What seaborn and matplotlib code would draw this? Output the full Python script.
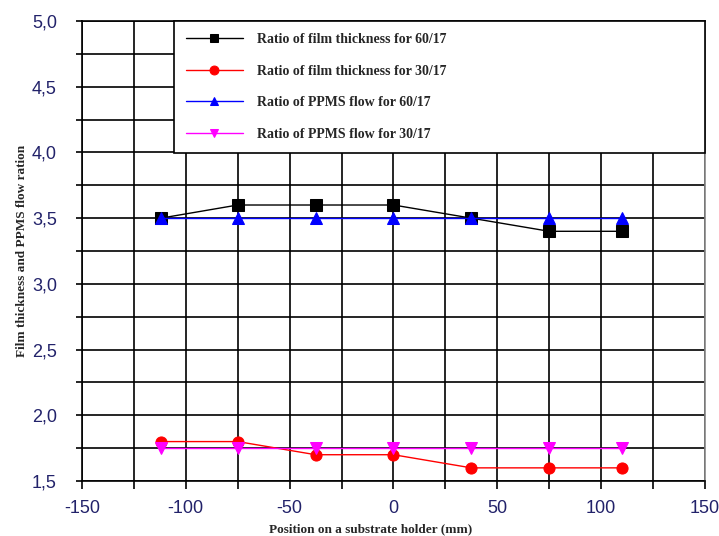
import matplotlib
matplotlib.use("Agg")
import matplotlib.pyplot as plt
from matplotlib.ticker import MultipleLocator, FuncFormatter
import seaborn as sns
import pandas as pd

# Measurement positions on the substrate holder (mm)
positions = [-112, -75, -37.5, 0, 37.5, 75, 110]

# Ratios for each series
thickness_60_17 = [3.5, 3.6, 3.6, 3.6, 3.5, 3.4, 3.4]
thickness_30_17 = [1.8, 1.8, 1.7, 1.7, 1.6, 1.6, 1.6]
ppms_60_17 = [3.5, 3.5, 3.5, 3.5, 3.5, 3.5, 3.5]
ppms_30_17 = [1.75, 1.75, 1.75, 1.75, 1.75, 1.75, 1.75]

series_labels = [
    "Ratio of film thickness for 60/17",
    "Ratio of film thickness for 30/17",
    "Ratio of PPMS flow for 60/17",
    "Ratio of PPMS flow for 30/17",
]
series_values = [thickness_60_17, thickness_30_17, ppms_60_17, ppms_30_17]
series_colors = ["#000000", "#ff0000", "#0000ff", "#ff00ff"]
series_markers = ["s", "o", "^", "v"]

x_label = "Position on a substrate holder (mm)"
y_label = "Film thickness and PPMS flow ration"

sns.set_style("white")
plt.rcParams["font.family"] = ["Liberation Sans", "DejaVu Sans"]

fig = plt.figure(figsize=(7.19, 5.36), dpi=100)
ax = fig.add_axes([0.114, 0.1026, 0.8665, 0.8582])

for label, vals, color, marker in zip(series_labels, series_values,
                                      series_colors, series_markers):
    df = pd.DataFrame({"x": positions, "y": vals})
    sns.lineplot(data=df, x="x", y="y", ax=ax, color=color, marker=marker,
                 markersize=8, markeredgecolor=color, linewidth=1.0,
                 label=label, zorder=5)

ax.set_xlim(-150, 150)
ax.set_ylim(1.5, 5.0)
ax.xaxis.set_major_locator(MultipleLocator(50))
ax.xaxis.set_minor_locator(MultipleLocator(25))
ax.yaxis.set_major_locator(MultipleLocator(0.5))
ax.yaxis.set_minor_locator(MultipleLocator(0.25))
ax.xaxis.set_major_formatter(FuncFormatter(lambda v, p: f"{v:.0f}"))
ax.yaxis.set_major_formatter(FuncFormatter(lambda v, p: f"{v:.1f}".replace(".", ",")))

ax.grid(True, which="both", color="black", linewidth=1.2)
ax.set_axisbelow(True)
ax.tick_params(axis="both", which="both", direction="out", color="black",
               width=1.2, bottom=True, left=True)
ax.tick_params(axis="x", which="both", length=6, pad=8)
ax.tick_params(axis="y", which="both", length=4, pad=14)
ax.tick_params(axis="both", which="major", labelsize=13, labelcolor="#22226a")

for side, spine in ax.spines.items():
    spine.set_visible(True)
    spine.set_color("black")
    spine.set_linewidth(1.2)
ax.spines["right"].set_color("#888888")

label_font = dict(family=["Liberation Serif", "DejaVu Serif"],
                  weight="bold", size=9.5)
ax.set_xlabel(x_label, fontdict=label_font)
ax.xaxis.set_label_coords(0.464, -0.092)
ax.set_ylabel(y_label, fontdict=label_font)
ax.yaxis.set_label_coords(-0.087, 0.5)

leg = ax.legend(loc="upper left", bbox_to_anchor=(0.148, 0.724, 0.852, 0.276),
                mode="expand", borderaxespad=0, frameon=True, fancybox=False,
                handlelength=4.1, handletextpad=1.0, labelspacing=1.35,
                borderpad=0.85, markerscale=0.8,
                prop=dict(family=["Liberation Serif", "DejaVu Serif"],
                          weight="bold", size=10))
leg.get_frame().set_edgecolor("black")
leg.get_frame().set_linewidth(1.2)
leg.get_frame().set_facecolor("white")
leg.get_frame().set_alpha(1)
leg.set_zorder(10)

fig.savefig("out.png", dpi=100)
